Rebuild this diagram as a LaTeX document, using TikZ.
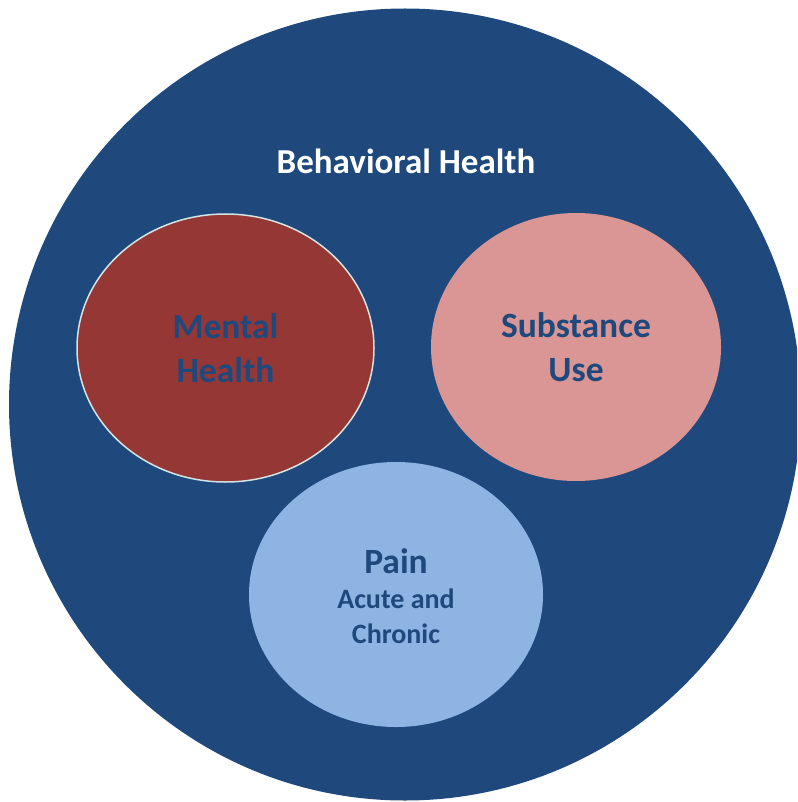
\documentclass[tikz,border=0pt]{standalone}
\usepackage{fontspec}
\setmainfont{Carlito}
\usetikzlibrary{shapes.geometric}
\definecolor{bhblue}{HTML}{1F497D}
\definecolor{mhred}{HTML}{953735}
\definecolor{supink}{HTML}{D99694}
\definecolor{painblue}{HTML}{8EB4E3}
\definecolor{rimline}{HTML}{D3E4E2}
\tikzset{
  areabox/.style={ellipse, inner sep=0pt, align=center, text=bhblue,
    font=\bfseries\fontsize{35.5}{44}\selectfont},
}
\begin{document}
\begin{tikzpicture}[x=1pt, y=-1pt]
  \useasboundingbox (0,0) rectangle (797,802);
  \clip (0,0) rectangle (797,802);
  % outer domain
  \node[circle, fill=bhblue, minimum size=792pt, inner sep=0pt] (bh) at (405,404.5) {};
  \node[text=white, font=\bfseries\fontsize{35}{40}\selectfont, anchor=base] (bhlabel) at (406,173.3) {Behavioral Health};
  % sub-domains
  \node[areabox, fill=mhred, draw=rimline, line width=1.5pt,
        minimum width=297pt, minimum height=268pt] (mh) at (225.5,348) {Mental\\Health};
  \node[areabox, fill=supink, minimum width=290pt, minimum height=268pt] (su) at (576,347) {Substance\\Use};
  \node[ellipse, inner sep=0pt, fill=painblue, minimum width=294pt, minimum height=265pt] (pain) at (396,594.5) {};
  \node[text=bhblue, font=\bfseries\fontsize{35.5}{40}\selectfont, anchor=base] (paint) at (396,573) {Pain};
  \node[text=bhblue, font=\bfseries\fontsize{28}{35}\selectfont, align=center, anchor=base] (painsub) at (396,643.3) {Acute and\\Chronic};
\end{tikzpicture}
\end{document}
